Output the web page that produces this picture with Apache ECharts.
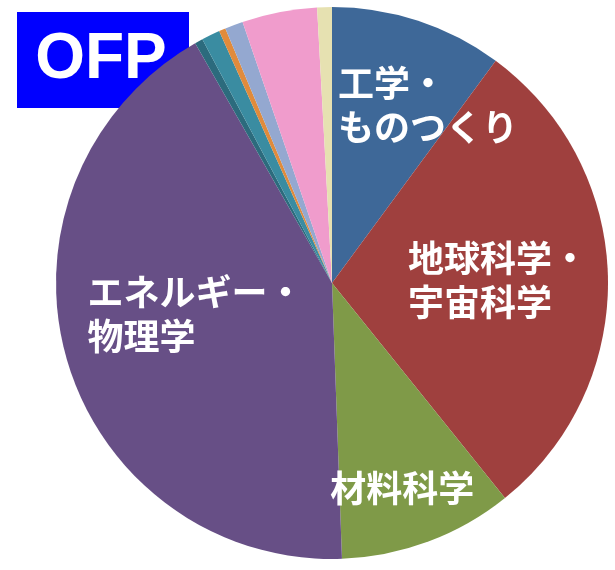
<!DOCTYPE html>
<html>
<head>
<meta charset="utf-8">
<script src="https://cdn.jsdelivr.net/npm/echarts@6/dist/echarts.min.js"></script>
<style>
html,body{margin:0;padding:0;background:#fff;}
#chart{width:615px;height:570px;}
</style>
</head>
<body>
<div id="chart"></div>
<script>
// Data (clockwise from 12 o'clock)
var categories = ['工学・\nものつくり', '地球科学・\n宇宙科学', '材料科学', 'エネルギー・\n物理学', 'その他1', 'その他2', 'その他3', 'その他4', 'その他5', 'その他6'];
var values = [10.1, 29.1, 10.2, 42.3, 0.47, 1.08, 0.39, 1.06, 4.39, 0.86];
var colors = ['#3E6898', '#9F403E', '#7F9A48', '#674F86', '#2C6B7D', '#3A8CA1', '#E08B3C', '#94A8D0', '#F09CCC', '#E6E1B1'];
var shownLabels = [true, true, true, true, false, false, false, false, false, false];
var labelLayout = [
  {width: 164, offset: [44, -44]},
  {width: 178, offset: [24, 0]},
  {width: 150, offset: [24, 73]},
  {width: 210, offset: [-4, -7]}
];

var chart = echarts.init(document.getElementById('chart'), null, {renderer: 'canvas'});
var seriesData = categories.map(function (name, i) {
  var item = {name: name, value: values[i], itemStyle: {color: colors[i]}};
  if (shownLabels[i]) {
    var lay = labelLayout[i];
    item.label = {
      show: true,
      offset: lay.offset,
      formatter: name.split('\n').map(function (l) { return '{a|' + l + '}'; }).join('\n'),
      rich: {
        a: {
          width: lay.width,
          align: 'left',
          color: '#ffffff',
          fontFamily: '"Noto Sans CJK JP", sans-serif',
          fontWeight: 'bold',
          fontSize: 36,
          lineHeight: 44
        }
      }
    };
  } else {
    item.label = {show: false};
  }
  return item;
});

chart.setOption({
  animation: false,
  backgroundColor: '#ffffff',
  series: [{
    type: 'pie',
    center: [332, 283],
    radius: [0, 276],
    startAngle: 90,
    clockwise: true,
    avoidLabelOverlap: false,
    label: {
      position: 'inside',
      color: '#ffffff',
      fontFamily: '"Noto Sans CJK JP", sans-serif',
      fontWeight: 'bold',
      fontSize: 36,
      lineHeight: 44
    },
    labelLine: {show: false},
    emphasis: {disabled: true},
    itemStyle: {borderWidth: 0},
    data: seriesData
  }],
  graphic: [
    {type: 'rect', left: 17, top: 12, shape: {width: 172, height: 96}, style: {fill: '#0000FF'}},
    {type: 'text', x: 101, y: 60, style: {text: 'OFP', fill: '#ffffff', font: 'bold 64px "Liberation Sans", Arial, sans-serif', align: 'center', verticalAlign: 'middle'}}
  ]
});
</script>
</body>
</html>
